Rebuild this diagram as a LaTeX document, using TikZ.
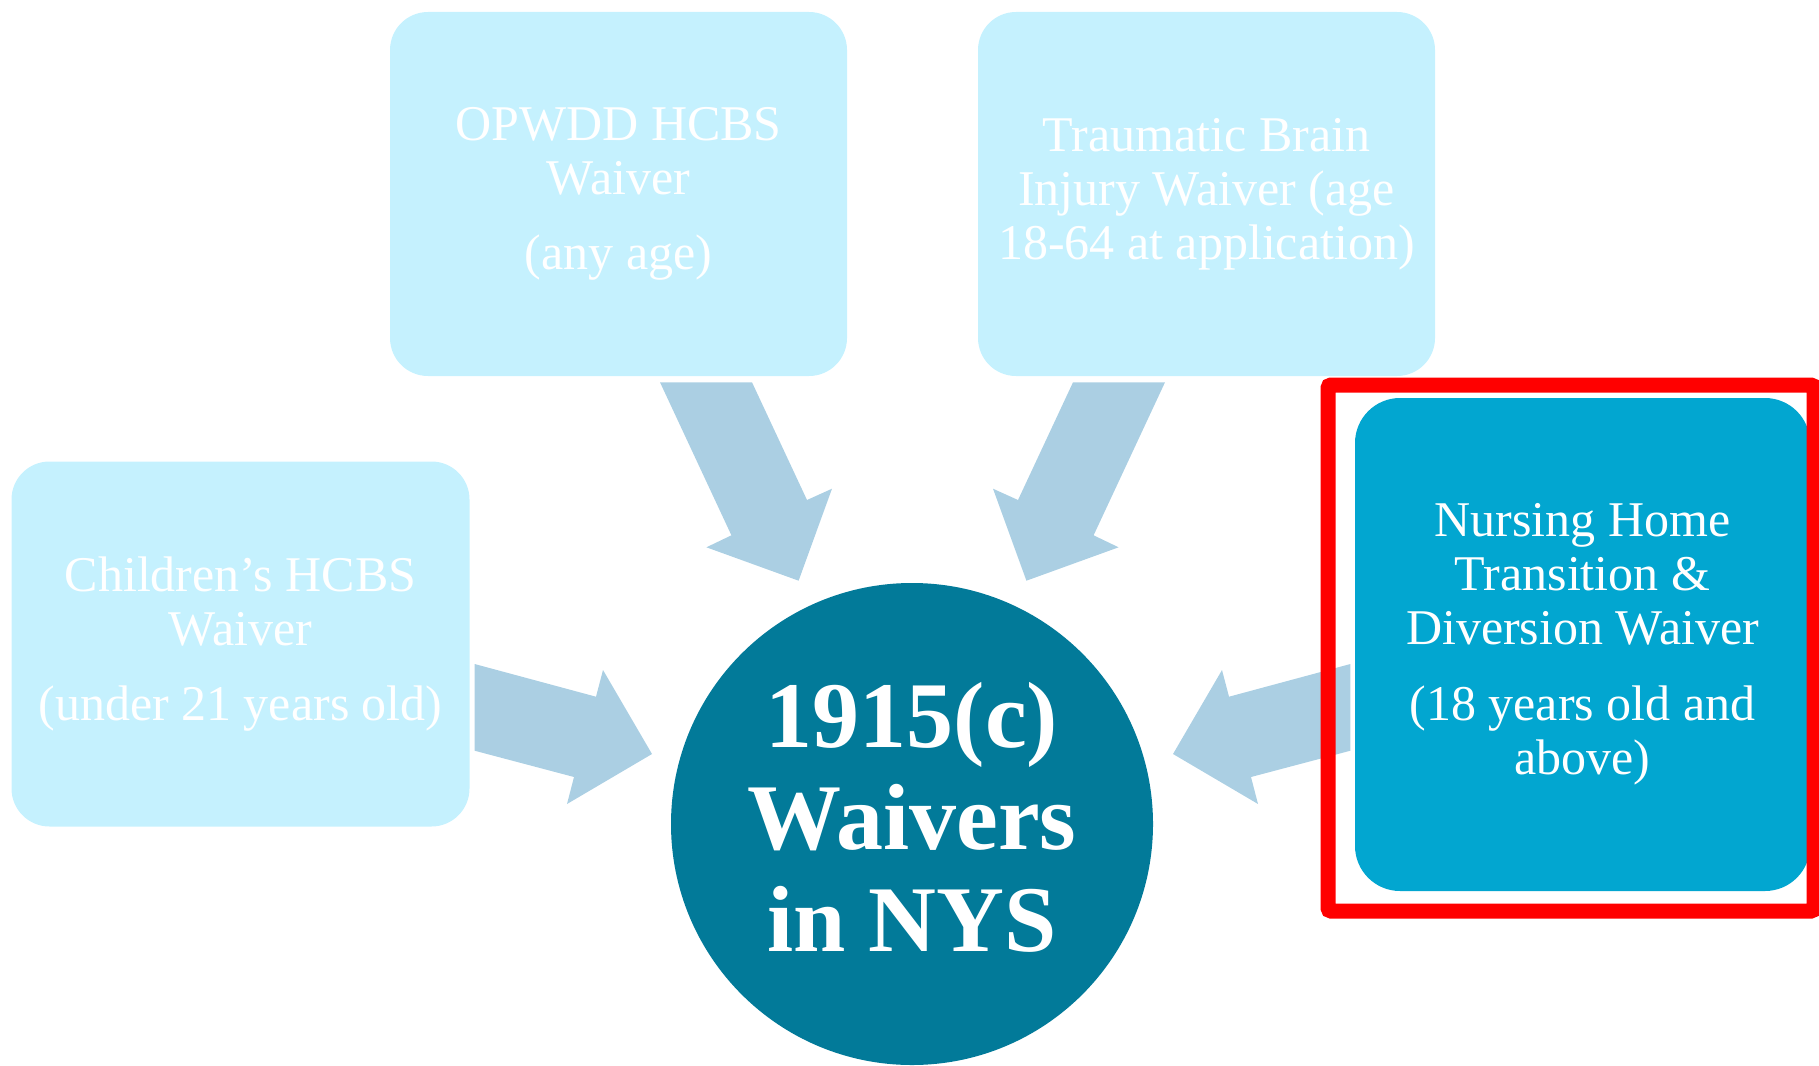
\documentclass[tikz,border=0pt]{standalone}
\usepackage{fontspec}
\setmainfont{Liberation Serif}
\definecolor{lightbox}{RGB}{197,241,254}
\definecolor{arrowblue}{RGB}{171,207,227}
\definecolor{hubteal}{RGB}{2,122,153}
\definecolor{nhblue}{RGB}{2,166,208}
\definecolor{frame}{RGB}{255,0,0}
\begin{document}
\begin{tikzpicture}[x=1pt,y=-1pt,
  wbox/.style={rectangle, rounded corners=38pt, fill=lightbox, draw=none,
    inner sep=0pt, text=white, align=center,
    font=\fontsize{50}{54}\selectfont},
  hub/.style={circle, fill=hubteal, draw=none, inner sep=0pt,
    minimum size=482pt},
  hubtext/.style={text=white, align=center, inner sep=0pt,
    font=\bfseries\fontsize{94}{102}\selectfont},
  blockarrow/.style={fill=arrowblue, draw=none}]
\useasboundingbox (0,0) rectangle (1819,1065);

% boxes
\node[wbox, minimum width=457pt, minimum height=364pt] (opwdd) at (618.5,194)
  {OPWDD HCBS\\Waiver\\[21pt](any age)};
\node[wbox, minimum width=457pt, minimum height=364pt] (tbi) at (1206.5,194)
  {Traumatic Brain\\Injury Waiver (age\\18-64 at application)};
\node[wbox, minimum width=458pt, minimum height=365pt] (child) at (240.5,644)
  {Children’s HCBS\\Waiver\\[21pt](under 21 years old)};
\node[wbox, fill=nhblue, rounded corners=45pt, minimum width=455pt, minimum height=493pt] (nh) at (1582.5,644.5)
  {Nursing Home\\Transition \&\\Diversion Waiver\\[22pt](18 years old and\\above)};

% hub
\node[hub] (center) at (912,824) {};
\node[hubtext] (centertext) at (912,817) {1915(c)\\Waivers\\in NYS};

% block arrows
\fill[blockarrow] (474.6,664) -- (596,696.7) -- (603,670) -- (652,754) -- (567,804) -- (574,777) -- (474.6,750.7) -- cycle;
\fill[blockarrow] (1350.4,664) -- (1229,696.7) -- (1222,670) -- (1173,754) -- (1258,804) -- (1251,777) -- (1350.4,750.7) -- cycle;
\fill[blockarrow] (660,382.3) -- (752,382.3) -- (807,500) -- (832,488.7) -- (798.6,580.7) -- (706.4,547.3) -- (731.4,535.3) -- cycle;
\fill[blockarrow] (1165,382.3) -- (1073,382.3) -- (1018,500) -- (993,488.7) -- (1026.4,580.7) -- (1118.6,547.3) -- (1093.6,535.3) -- cycle;

% highlight frame
\draw[frame, line width=15pt, rounded corners=3pt] (1328,385) rectangle (1814,911);
\end{tikzpicture}
\end{document}
